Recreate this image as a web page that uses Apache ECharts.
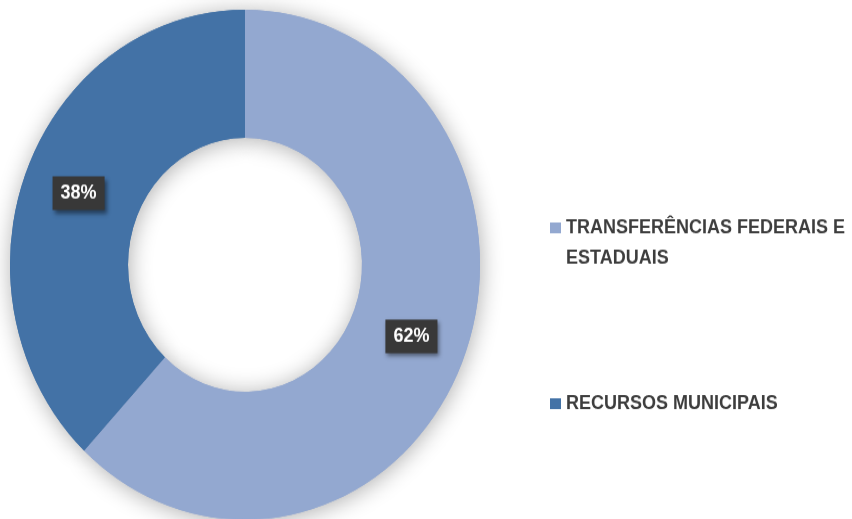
<!DOCTYPE html>
<html>
<head>
<meta charset="utf-8">
<script src="https://cdn.jsdelivr.net/npm/echarts@6/dist/echarts.min.js"></script>
<style>
  html, body { margin: 0; padding: 0; background: #fff; height: 519px; }
  /* the source donut is slightly taller than wide, so the whole chart is stretched vertically */
  #chart { width: 852px; height: 479px; transform: scaleY(1.0851); transform-origin: 0 0; }
</style>
</head>
<body>
<div id="chart"></div>
<script>
let categories = ['TRANSFERÊNCIAS FEDERAIS E ESTADUAIS', 'RECURSOS MUNICIPAIS'];
let values = [62, 38];
let colors = ['#93A8D0', '#4372A6'];

let slices = categories.map((name, i) => ({
  name: name,
  value: values[i],
  itemStyle: { color: colors[i] }
}));

let legendFont = {
  fontFamily: "'Liberation Sans', sans-serif",
  fontWeight: 'bold',
  fontSize: 18,
  lineHeight: 28,
  color: '#3d3d3d',
  // empty first line so the icon sits next to the first real line
  rich: { sp: { lineHeight: 28, fontSize: 10 } }
};

let option = {
  animation: false,
  legend: [
    {
      left: 550,
      top: 168,
      padding: 0,
      orient: 'vertical',
      icon: 'rect',
      itemWidth: 11,
      itemHeight: 10,
      selectedMode: false,
      data: [categories[0]],
      formatter: () => '{sp| }\nTRANSFERÊNCIAS FEDERAIS E\nESTADUAIS',
      textStyle: legendFont
    },
    {
      left: 550,
      top: 358,
      padding: 0,
      orient: 'vertical',
      icon: 'rect',
      itemWidth: 11,
      itemHeight: 10,
      selectedMode: false,
      data: [categories[1]],
      textStyle: legendFont
    }
  ],
  series: [
    {
      // shadow layer
      type: 'pie',
      silent: true,
      center: [245, 244],
      radius: [117, 235],
      startAngle: 90,
      label: { show: false },
      labelLine: { show: false },
      itemStyle: {
        shadowBlur: 22,
        shadowColor: 'rgba(0,0,0,0.32)',
        shadowOffsetX: 1,
        shadowOffsetY: 2
      },
      data: slices
    },
    {
      type: 'pie',
      silent: true,
      center: [245, 244],
      radius: [117, 235],
      startAngle: 90,
      percentPrecision: 0,
      labelLine: { show: false },
      label: {
        show: true,
        position: 'inside',
        formatter: '{d}%',
        color: '#fff',
        fontFamily: "'Liberation Sans', sans-serif",
        fontWeight: 'bold',
        fontSize: 18,
        backgroundColor: '#383838',
        padding: [7, 8, 6, 8],
        shadowBlur: 4,
        shadowOffsetX: 2,
        shadowOffsetY: 3,
        shadowColor: 'rgba(0,0,0,0.45)'
      },
      data: slices
    }
  ]
};

let myChart = echarts.init(document.getElementById('chart'));
myChart.setOption(option);
</script>
</body>
</html>
